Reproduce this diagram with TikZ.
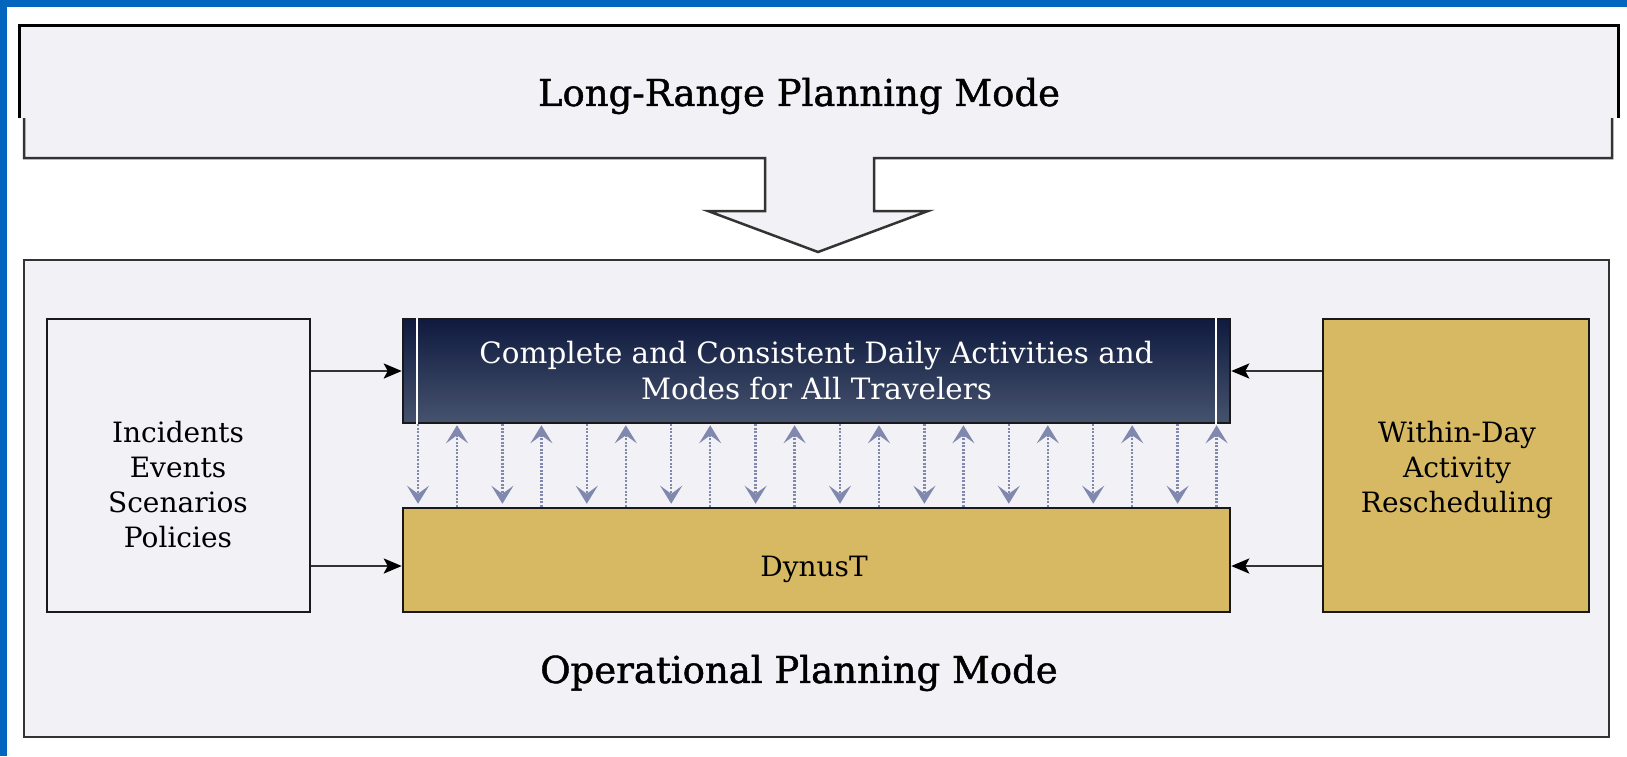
\documentclass[tikz,border=0pt]{standalone}
\usepackage{fontspec}
\setmainfont{DejaVu Serif}[BoldFont=DejaVu Serif, BoldFeatures={FakeBold=1.2}]
\usetikzlibrary{arrows.meta}
\definecolor{framecol}{HTML}{0366BE}
\definecolor{panel}{HTML}{F1F1F6}
\definecolor{gold}{HTML}{D8B963}
\definecolor{navytop}{HTML}{0F1A3F}
\definecolor{navybot}{HTML}{46536E}
\definecolor{flowcol}{HTML}{8088AD}
\tikzset{
  box/.style={draw=black!90, line width=2.5pt, inner sep=0pt, align=center,
    font=\fontsize{28}{35}\selectfont},
  label text/.style={inner sep=0pt, align=center, font=\fontsize{28}{35}\selectfont},
  title/.style={font=\fontsize{37}{44}\selectfont\bfseries, inner sep=0pt},
  feed/.style={draw=black!80, line width=2.5pt,
    -{Stealth[length=18pt,width=15pt,inset=4pt,black]}},
  flow/.style={draw=flowcol, line width=2.5pt, dash pattern=on 2pt off 1.5pt,
    -{Stealth[length=18pt,width=22pt,inset=8pt]}}
}
\begin{document}
\begin{tikzpicture}[x=1pt,y=-1pt]
  \useasboundingbox (0,0) rectangle (1627,756);
  \fill[framecol] (0,0) rectangle (7,756);
  \fill[framecol] (0,0) rectangle (1627,7);
  % long-range panel and its block arrow
  \fill[panel] (19,25) rectangle (1618,118);
  \filldraw[fill=panel, draw=black!80, line width=2.5pt]
    (24,118) -- (24,158) -- (765,158) -- (765,211) -- (708,211) -- (818,252)
    -- (928,211) -- (874,211) -- (874,158) -- (1612,158) -- (1612,118);
  \draw[line width=3pt] (19,118) -- (19,25) -- (1618,25) -- (1618,118);
  \node[title] (longrange) at (799,96) {Long-Range Planning Mode};
  % operational panel
  \node[box, draw=black!80, fill=panel, minimum width=1585pt, minimum height=477pt]
    (operational) at (816.5,498.5) {};
  \node[title] (opmode) at (799,673) {Operational Planning Mode};
  \node[box, fill=panel, minimum width=263pt, minimum height=293pt]
    (incidents) at (178.5,465.5) {};
  \node[label text] (incidentstext) at (178,485)
    {Incidents\\Events\\Scenarios\\Policies};
  \node[box, top color=navytop, bottom color=navybot, text=white,
    font=\fontsize{29.4}{36}\selectfont,
    minimum width=827pt, minimum height=104pt] (activities) at (816.5,371)
    {Complete and Consistent Daily Activities and\\Modes for All Travelers};
  \node[box, fill=gold, minimum width=827pt, minimum height=104pt]
    (dynust) at (816.5,560) {};
  \node[label text] (dynusttext) at (814,569) {DynusT};
  \node[box, fill=gold, minimum width=266pt, minimum height=293pt]
    (withinday) at (1456,465.5) {};
  \node[label text] (withindaytext) at (1457,469.5)
    {Within-Day\\Activity\\Rescheduling};
  \draw[white, line width=1.5pt] (activities.north -| 417,0) -- (activities.south -| 417,0);
  \draw[white, line width=1.5pt] (activities.north -| 1216,0) -- (activities.south -| 1216,0);
  \draw[feed] (incidents.east |- activities.west) -- (activities.west);
  \draw[feed] (incidents.east |- 0,566) -- (dynust.west |- 0,566);
  \draw[feed] (withinday.west |- activities.east) -- (activities.east);
  \draw[feed] (withinday.west |- 0,566) -- (dynust.east |- 0,566);
  \foreach \k in {0,...,9} {
    \draw[flow] (activities.south -| 418+84.4*\k,0) -- ([yshift=3pt]dynust.north -| 418+84.4*\k,0);
    \draw[flow] (dynust.north -| 457+84.4*\k,0) -- ([yshift=-1pt]activities.south -| 457+84.4*\k,0);
  }
\end{tikzpicture}
\end{document}
